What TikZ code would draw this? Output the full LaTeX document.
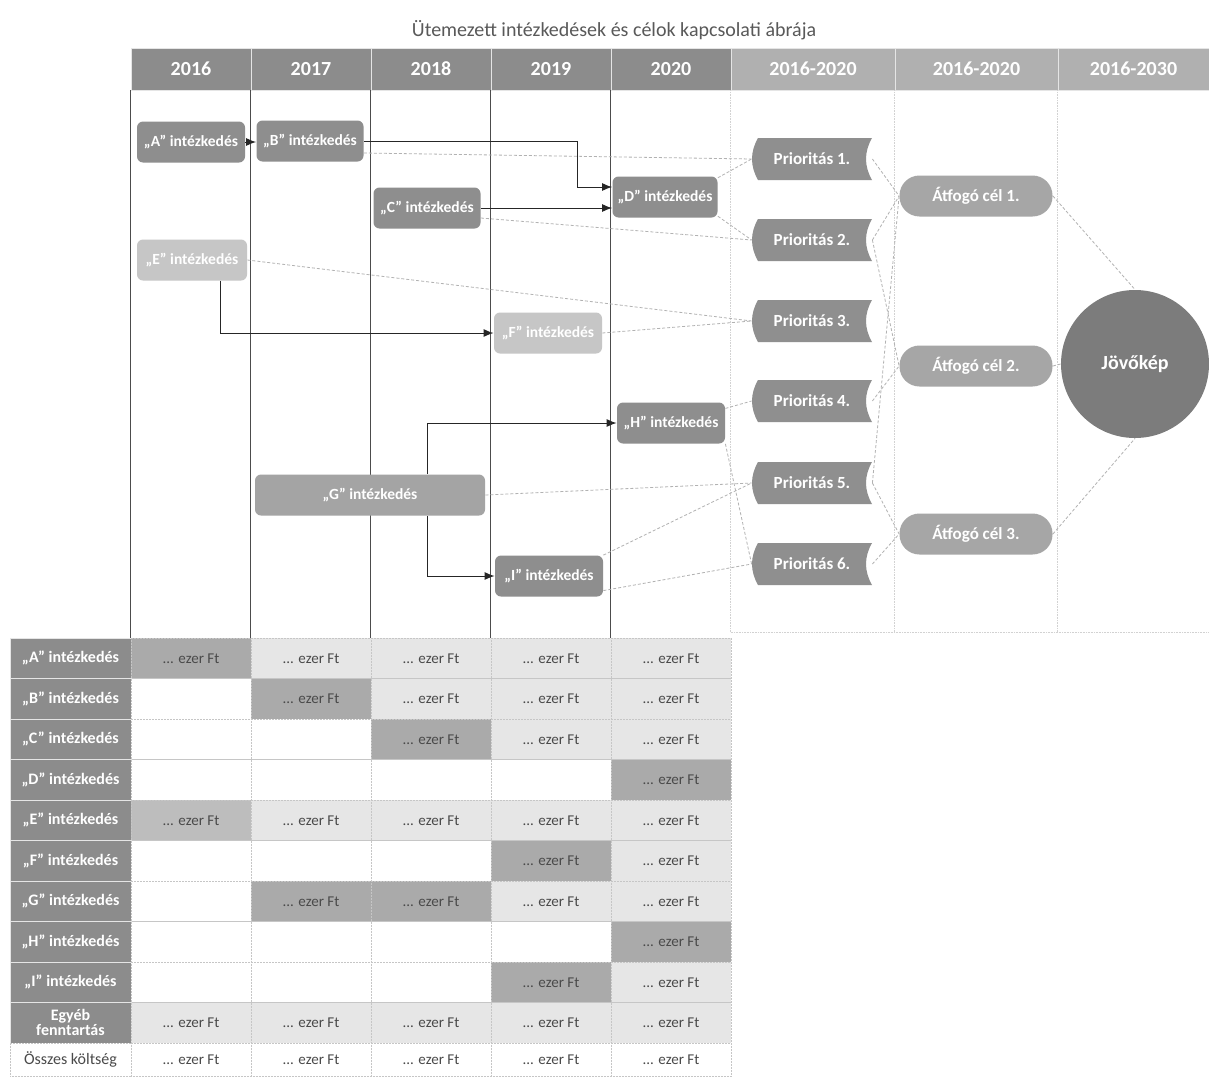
\documentclass[tikz,border=0pt]{standalone}
\usepackage{fontspec}
\setmainfont{Carlito}
\usetikzlibrary{arrows.meta}
\definecolor{fejlecsotet}{HTML}{8C8C8C}
\definecolor{fejlecvilagos}{HTML}{B0B0B0}
\definecolor{akciosotet}{HTML}{8E8E8E}
\definecolor{akciovilagos}{HTML}{C6C6C6}
\definecolor{akciokozep}{HTML}{A4A4A4}
\definecolor{prioszurke}{HTML}{8F8F8F}
\definecolor{celszurke}{HTML}{A6A6A6}
\definecolor{jovoszurke}{HTML}{7C7C7C}
\definecolor{cellaaktiv}{HTML}{AAAAAA}
\definecolor{cellaE}{HTML}{BDBDBD}
\definecolor{cellakovet}{HTML}{E6E6E6}
\definecolor{szoveg}{HTML}{4A4A4A}
\begin{document}
\begin{tikzpicture}[x=1pt, y=-1pt, line width=0.8pt,
    fejlec/.style={fill=fejlecsotet, draw=white!80!gray, line width=0.6pt, minimum height=42pt,
        text=white, font=\fontsize{20}{22}\selectfont\bfseries},
    intezkedes/.style={fill=akciosotet, rounded corners=6pt, minimum height=41pt, inner sep=2pt,
        text=white, font=\fontsize{15.5}{17}\selectfont\bfseries},
    prioritas/.style={minimum width=120pt, minimum height=42pt, text=white,
        font=\fontsize{17}{19}\selectfont\bfseries,
        path picture={\fill[prioszurke] ([xshift=6pt]path picture bounding box.north west)
            -- (path picture bounding box.north east)
            .. controls +(-8pt,-14pt) and +(-8pt,14pt) .. (path picture bounding box.south east)
            -- ([xshift=6pt]path picture bounding box.south west)
            .. controls +(-8pt,14pt) and +(-8pt,-14pt) .. ([xshift=6pt]path picture bounding box.north west)
            -- cycle;}},
    celbox/.style={fill=celszurke, rounded corners=20pt, minimum width=153pt, minimum height=41pt,
        text=white, font=\fontsize{17}{19}\selectfont\bfseries},
    nyil/.style={-{Latex[length=10pt,width=8pt]}, line width=1pt, black!85},
    kapcsolat/.style={densely dashed, gray!60, line width=0.8pt},
    racs/.style={gray!60!black, line width=0.6pt},
    racsvilagos/.style={gray!35, densely dotted, line width=0.6pt},
    sorcim/.style={fill=fejlecsotet, draw=white!80!gray, line width=0.5pt, minimum width=121pt,
        minimum height=40.5pt, inner sep=1pt, align=center, text=white,
        font=\fontsize{16}{15}\selectfont\bfseries},
    cella/.style={draw=gray!45, densely dotted, line width=0.5pt, minimum width=120pt,
        minimum height=40.5pt, text=szoveg, font=\fontsize{15}{17}\selectfont},
    cellaa/.style={cella, fill=cellaaktiv},
    cellae/.style={cella, fill=cellaE},
    cellak/.style={cella, fill=cellakovet},
    cellau/.style={cella, fill=white}]

    \fill[white] (0,0) rectangle (1209,1076);
    \useasboundingbox (0,0) rectangle (1209,1076);

    \node[text=gray!70!black, font=\fontsize{20}{24}\selectfont] (cim) at (614,30)
    {Ütemezett intézkedések és célok kapcsolati ábrája};

    % fejlec
    \foreach \ev [count=\i] in {2016,...,2020}
    \node[fejlec, minimum width=120pt] (h\i) at (71+120*\i,69) {\ev};
    \node[fejlec, fill=fejlecvilagos, minimum width=164pt] (h6) at (813,69) {2016-2020};
    \node[fejlec, fill=fejlecvilagos, minimum width=163pt] (h7) at (976.5,69) {2016-2020};
    \node[fejlec, fill=fejlecvilagos, minimum width=151pt] (h8) at (1133.5,69) {2016-2030};

    \foreach \i in {1,...,5}
    \draw[racs] (h\i.south west) -- ++(0,548);
    \foreach \i in {6,7,8}
    \draw[racsvilagos] (h\i.south west) -- ++(0,542);
    \draw[racsvilagos] ([yshift=-542pt]h6.south west) -- ([yshift=-542pt]h8.south east);

    % intezkedesek
    \node[intezkedes, minimum width=108pt] (a) at (191,142) {„A” intézkedés};
    \node[intezkedes, minimum width=107pt] (b) at (310,141) {„B” intézkedés};
    \node[intezkedes, minimum width=107pt] (c) at (427,208) {„C” intézkedés};
    \node[intezkedes, minimum width=105pt] (d) at (665,197) {„D” intézkedés};
    \node[intezkedes, minimum width=110pt, fill=akciovilagos] (e) at (192,260) {„E” intézkedés};
    \node[intezkedes, minimum width=108pt, fill=akciovilagos] (f) at (548,333) {„F” intézkedés};
    \node[intezkedes, minimum width=230pt, fill=akciokozep] (g) at (370,495) {„G” intézkedés};
    \node[intezkedes, minimum width=108pt] (h) at (671,423) {„H” intézkedés};
    \node[intezkedes, minimum width=108pt] (i) at (549,576) {„I” intézkedés};

    \foreach \k/\y in {1/159,2/240,3/321,4/401,5/483,6/564}
    \node[prioritas] (p\k) at (812,\y) {Prioritás \k.};

    \node[celbox] (c1) at (976,196) {Átfogó cél 1.};
    \node[celbox] (c2) at (976,366) {Átfogó cél 2.};
    \node[celbox] (c3) at (976,534) {Átfogó cél 3.};
    \node[circle, fill=jovoszurke, minimum size=148pt, text=white,
        font=\fontsize{20}{22}\selectfont\bfseries] (jovo) at (1135,364) {Jövőkép};

    \draw[nyil] (a.east) -- (a.east -| b.west);
    \draw[nyil] (b.east) -- ++(214,0) |- ([yshift=10pt]d.west);
    \draw[nyil] (c.east) -- (c.east -| d.west);
    \draw[nyil] ([xshift=28pt]e.south) |- (f.west);
    \draw[nyil] ([xshift=57pt]g.north) |- (h.west);
    \draw[nyil] ([xshift=57pt]g.south) |- (i.west);

    \draw[kapcsolat] ([yshift=-12pt]b.east) -- (p1.west);
    \draw[kapcsolat] (d.20) -- (p1.west);
    \draw[kapcsolat] (d.-20) -- (p2.west);
    \draw[kapcsolat] ([yshift=-10pt]c.east) -- (p2.west);
    \draw[kapcsolat] (e.east) -- (p3.west);
    \draw[kapcsolat] (f.east) -- (p3.west);
    \draw[kapcsolat] (h.15) -- (p4.west);
    \draw[kapcsolat] (h.south east) -- (p6.west);
    \draw[kapcsolat] (g.east) -- (p5.west);
    \draw[kapcsolat] (i.north east) -- (p5.west);
    \draw[kapcsolat] (i.-15) -- (p6.west);
    \draw[kapcsolat] (p1.east) -- (c1.west);
    \draw[kapcsolat] (p2.east) -- (c1.west);
    \draw[kapcsolat] (p5.east) -- (c1.west);
    \draw[kapcsolat] (p2.east) -- (c2.west);
    \draw[kapcsolat] (p4.east) -- (c2.west);
    \draw[kapcsolat] (p5.east) -- (c3.west);
    \draw[kapcsolat] (p6.east) -- (c3.west);
    \draw[kapcsolat] (c1.east) -- (jovo.north);
    \draw[kapcsolat] (c2.east) -- (jovo.west);
    \draw[kapcsolat] (c3.east) -- (jovo.south);

    % koltsegtabla
    \foreach \sor/\lab/\cellak in {
        1/{„A” intézkedés}/{a,k,k,k,k},
        2/{„B” intézkedés}/{u,a,k,k,k},
        3/{„C” intézkedés}/{u,u,a,k,k},
        4/{„D” intézkedés}/{u,u,u,u,a},
        5/{„E” intézkedés}/{e,k,k,k,k},
        6/{„F” intézkedés}/{u,u,u,a,k},
        7/{„G” intézkedés}/{u,a,a,k,k},
        8/{„H” intézkedés}/{u,u,u,u,a},
        9/{„I” intézkedés}/{u,u,u,a,k},
        10/{Egyéb\\fenntartás}/{k,k,k,k,k}}{
        \node[sorcim] (s\sor) at (70.5,617.75+40.5*\sor) {\lab};
        \foreach \fajta [count=\oszlop] in \cellak
        \node[cella\fajta] (t\sor-\oszlop) at (71+120*\oszlop,617.75+40.5*\sor)
        {\if u\fajta\else ... ezer Ft\fi};
    }
    \node[cellau, minimum width=121pt, minimum height=33pt, font=\fontsize{16}{18}\selectfont]
    (s11) at (70.5,1059.5) {Összes költség};
    \foreach \oszlop in {1,...,5}
    \node[cellau, minimum height=33pt] (t11-\oszlop) at (71+120*\oszlop,1059.5) {... ezer Ft};
\end{tikzpicture}
\end{document}
